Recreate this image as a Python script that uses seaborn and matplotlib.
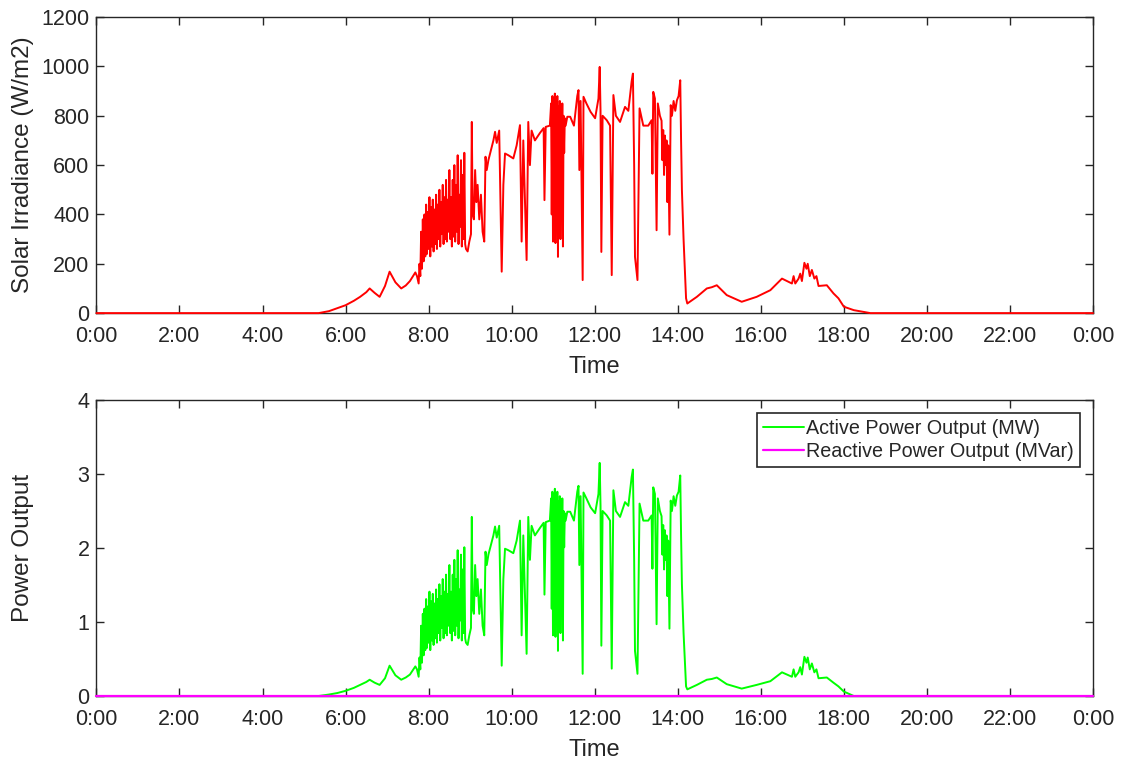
import matplotlib
matplotlib.use("Agg")
import matplotlib.pyplot as plt
import seaborn as sns
import pandas as pd

# time of day (hours) and values, one line per stretch of the day
hours = [
    0.0, 5.35, 5.6, 5.8, 6.0, 6.2, 6.35, 6.5, 6.58, 6.7, 6.82, 6.95, 7.06, 7.2, 7.34, 7.45, 7.55, 7.68, 7.72, 7.76,
    7.78, 7.80, 7.82, 7.84, 7.86, 7.88, 7.90, 7.92, 7.94, 7.96, 7.98, 8.00, 8.02, 8.04, 8.06, 8.08, 8.10, 8.12, 8.14,
    8.16, 8.18, 8.20, 8.22, 8.24, 8.26, 8.28, 8.30, 8.32, 8.34, 8.36, 8.38, 8.40, 8.42, 8.44, 8.46, 8.48, 8.50, 8.52,
    8.54, 8.56, 8.58, 8.60, 8.62, 8.64, 8.66, 8.68, 8.70, 8.72, 8.74, 8.76, 8.78, 8.80, 8.82, 8.84, 8.86, 8.88, 8.90,
    8.94, 8.98, 9.02,
    9.04, 9.06, 9.09, 9.12, 9.15, 9.18, 9.22, 9.26, 9.30, 9.34, 9.37, 9.40, 9.44, 9.50, 9.56, 9.60, 9.64, 9.70, 9.76,
    9.80, 9.84, 9.92, 10.04, 10.12, 10.20, 10.24, 10.28, 10.36, 10.40, 10.44, 10.48, 10.56, 10.68, 10.77, 10.79,
    10.82, 10.92,
    10.95, 10.965, 10.98, 10.995, 11.01, 11.025, 11.04, 11.055, 11.07, 11.085, 11.10, 11.115, 11.13, 11.145, 11.16,
    11.175, 11.19, 11.205, 11.22, 11.235, 11.25, 11.265, 11.28, 11.30, 11.34,
    11.41, 11.50, 11.58, 11.61, 11.63, 11.66, 11.71, 11.73, 11.80, 11.90, 12.01, 12.09, 12.12, 12.14, 12.16, 12.19,
    12.29, 12.37, 12.41, 12.45, 12.51, 12.61, 12.73, 12.81, 12.89, 12.92, 12.95, 12.97, 13.03, 13.08, 13.17, 13.29,
    13.37, 13.39, 13.41, 13.45, 13.49, 13.52,
    13.57, 13.61, 13.63, 13.65, 13.67, 13.69, 13.71, 13.73, 13.75, 13.77, 13.80, 13.83, 13.86, 13.90, 13.94, 13.98,
    14.02, 14.06, 14.08, 14.10, 14.14, 14.20,
    14.23, 14.46, 14.70, 14.82, 14.94, 15.18, 15.54, 15.90, 16.23, 16.51, 16.75, 16.79, 16.83, 16.91, 16.95, 16.99,
    17.05, 17.10, 17.13, 17.18, 17.23, 17.29, 17.34, 17.39, 17.59, 17.75, 17.87, 18.00, 18.24, 18.64, 24.0,
]

irradiance = [
    0, 0, 8, 20, 32, 50, 66, 85, 100, 82, 66, 110, 168, 125, 100, 112, 130, 165, 150, 120,
    200, 150, 330, 180, 380, 210, 400, 230, 440, 240, 410, 260, 470, 230, 430, 270, 460, 250, 420,
    280, 480, 260, 440, 300, 500, 270, 450, 320, 520, 280, 470, 300, 540, 290, 460, 330, 580, 300,
    470, 270, 540, 310, 600, 290, 520, 330, 640, 280, 480, 350, 620, 270, 560, 300, 650, 280, 260,
    250, 290, 320,
    775, 400, 380, 580, 450, 520, 380, 480, 330, 290, 634, 580, 620, 660, 700, 735, 690, 740, 168,
    520, 647, 640, 627, 680, 762, 290, 700, 215, 775, 600, 740, 700, 730, 750, 458,
    755, 760,
    850, 400, 880, 290, 870, 450, 890, 284, 860, 520, 880, 228, 840, 350, 860,
    300, 820, 600, 850, 270, 800, 650, 790, 760, 796,
    796, 760, 880, 904, 580, 860, 134, 877, 850, 816, 790, 870, 998, 820, 248, 800,
    782, 760, 154, 884, 800, 775, 836, 820, 940, 971, 600, 228, 134, 830, 760, 760,
    782, 565, 897, 870, 336, 850,
    800, 780, 620, 742, 560, 720, 600, 700, 450, 680, 318, 843, 800, 860, 820, 863,
    880, 944, 700, 500, 300, 60,
    39, 66, 100, 105, 113, 73, 46, 66, 93, 140, 120, 150, 120, 140, 160, 130,
    204, 180, 200, 150, 175, 140, 150, 110, 113, 80, 60, 26, 12, 0, 0,
]

active_power = [
    0, 0, 0.02, 0.04, 0.07, 0.11, 0.15, 0.19, 0.22, 0.18, 0.15, 0.24, 0.41, 0.28, 0.22, 0.25, 0.29, 0.40, 0.36, 0.26,
    0.52, 0.36, 0.95, 0.45, 1.11, 0.55, 1.18, 0.62, 1.31, 0.65, 1.21, 0.72, 1.41, 0.62, 1.28, 0.75, 1.38, 0.69, 1.25,
    0.78, 1.44, 0.72, 1.31, 0.85, 1.51, 0.75, 1.35, 0.92, 1.58, 0.78, 1.41, 0.85, 1.64, 0.82, 1.38, 0.95, 1.77, 0.85,
    1.41, 0.75, 1.64, 0.88, 1.84, 0.82, 1.58, 0.95, 1.97, 0.78, 1.44, 1.02, 1.91, 0.75, 1.71, 0.85, 2.01, 0.78, 0.72,
    0.69, 0.82, 0.92,
    2.42, 1.18, 1.11, 1.77, 1.35, 1.58, 1.11, 1.44, 0.95, 0.82, 1.95, 1.77, 1.91, 2.04, 2.17, 2.29, 2.14, 2.30, 0.41,
    1.58, 1.99, 1.97, 1.93, 2.10, 2.37, 0.82, 2.17, 0.57, 2.42, 1.84, 2.30, 2.17, 2.27, 2.34, 1.37,
    2.35, 2.37,
    2.67, 1.18, 2.76, 0.82, 2.73, 1.35, 2.80, 0.80, 2.70, 1.58, 2.76, 0.61, 2.63, 1.02, 2.70,
    0.85, 2.57, 1.84, 2.67, 0.75, 2.50, 2.01, 2.47, 2.37, 2.49,
    2.49, 2.37, 2.76, 2.84, 1.77, 2.70, 0.30, 2.75, 2.67, 2.55, 2.47, 2.73, 3.15, 2.57, 0.68, 2.50,
    2.44, 2.37, 0.37, 2.78, 2.50, 2.42, 2.62, 2.57, 2.96, 3.06, 1.84, 0.61, 0.30, 2.60, 2.37, 2.37,
    2.44, 1.72, 2.82, 2.73, 0.97, 2.67,
    2.50, 2.43, 1.91, 2.31, 1.71, 2.24, 1.84, 2.17, 1.35, 2.10, 0.91, 2.64, 2.50, 2.70, 2.57, 2.71,
    2.76, 2.98, 2.17, 1.51, 0.85, 0.13,
    0.09, 0.15, 0.22, 0.23, 0.25, 0.16, 0.10, 0.15, 0.20, 0.32, 0.26, 0.36, 0.26, 0.32, 0.39, 0.29,
    0.53, 0.45, 0.52, 0.36, 0.44, 0.32, 0.36, 0.24, 0.25, 0.18, 0.13, 0.06, 0, 0, 0,
]

reactive_hours = [0.0, 24.0]
reactive_power = [0.0, 0.0]

tick_hours = [0, 2, 4, 6, 8, 10, 12, 14, 16, 18, 20, 22, 24]
tick_labels = ["0:00", "2:00", "4:00", "6:00", "8:00", "10:00", "12:00",
               "14:00", "16:00", "18:00", "20:00", "22:00", "0:00"]

assert len(hours) == len(irradiance) == len(active_power)

df = pd.DataFrame({"Time": hours, "Irradiance": irradiance, "Active": active_power})
df_q = pd.DataFrame({"Time": reactive_hours, "Reactive": reactive_power})

sns.set_theme(style="ticks")
plt.rcParams["font.family"] = ["Liberation Sans", "DejaVu Sans"]
ink = "#262626"
plt.rcParams.update({
    "axes.edgecolor": ink, "xtick.color": ink, "ytick.color": ink,
    "axes.labelcolor": ink, "xtick.direction": "in", "ytick.direction": "in",
    "xtick.top": True, "ytick.right": True, "axes.linewidth": 1.0,
    "xtick.major.size": 6, "ytick.major.size": 6,
    "xtick.major.pad": 9.5, "ytick.major.pad": 5,
})

fig = plt.figure(figsize=(11.24, 7.6), dpi=100)
ax1 = fig.add_axes([0.0858, 0.588, 0.8866, 0.3895])
ax2 = fig.add_axes([0.0858, 0.0842, 0.8866, 0.3895])

sns.lineplot(data=df, x="Time", y="Irradiance", ax=ax1, color="#ff0000",
             linewidth=1.4, estimator=None, sort=False, zorder=3, clip_on=False)
sns.lineplot(data=df, x="Time", y="Active", ax=ax2, color="#00ff00",
             linewidth=1.4, estimator=None, sort=False, zorder=3, clip_on=False,
             label="Active Power Output (MW)")
sns.lineplot(data=df_q, x="Time", y="Reactive", ax=ax2, color="#ff00ff",
             linewidth=1.6, estimator=None, sort=False, zorder=4, clip_on=False,
             label="Reactive Power Output (MVar)")

for ax in (ax1, ax2):
    ax.set_xlim(0, 24)
    ax.set_xticks(tick_hours)
    ax.set_xticklabels(tick_labels)
    ax.set_xlabel("Time", fontsize=17, labelpad=6)
    ax.tick_params(labelsize=15.5, width=1.0)
    for s in ax.spines.values():
        s.set_visible(True)

ax1.set_ylim(0, 1200)
ax1.set_yticks([0, 200, 400, 600, 800, 1000, 1200])
ax1.set_ylabel("Solar Irradiance (W/m2)", fontsize=17.5)

ax2.set_ylim(0, 4)
ax2.set_yticks([0, 1, 2, 3, 4])
ax2.set_ylabel("Power Output", fontsize=17.5)
ax1.yaxis.set_label_coords(-0.063, 0.5)
ax2.yaxis.set_label_coords(-0.063, 0.5)

leg = ax2.legend(loc="upper right", fontsize=14.2, frameon=True, fancybox=False,
                 framealpha=1, edgecolor=ink, handlelength=2.05, handletextpad=0.15,
                 borderpad=0.3, labelspacing=0.2, borderaxespad=0.65)
leg.get_frame().set_linewidth(1.2)
leg.set_zorder(5)

fig.savefig("out.png", dpi=100)
